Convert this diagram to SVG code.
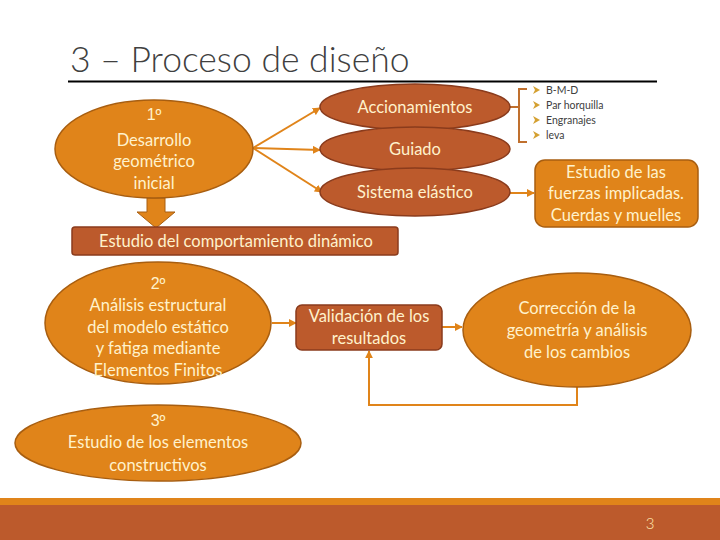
<svg xmlns="http://www.w3.org/2000/svg" width="720" height="540" viewBox="0 0 720 540">
<defs>
<style>
.t{font-family:Lato,"Open Sans","Liberation Sans",sans-serif;fill:#FFF2CC;font-size:16.5px;text-anchor:middle}
.n{font-family:"Liberation Sans","Open Sans",sans-serif;font-size:16px}
.o{fill:#E0841A;stroke:#A85E10;stroke-width:1.5}
.r{fill:#BC5A2C;stroke:#8A3B1C;stroke-width:1.5}
.c{fill:none;stroke:#E0841A;stroke-width:2}
.b{font-family:Lato,"Open Sans","Liberation Sans",sans-serif;fill:#404040;font-size:10.5px}
</style>
<marker id="ah" viewBox="0 0 10 10" refX="9" refY="5" markerWidth="4" markerHeight="4" orient="auto-start-reverse">
<path d="M0,0 L10,5 L0,10 z" fill="#E0841A"/>
</marker>
</defs>
<rect width="720" height="540" fill="#fff"/>
<text x="70" y="72" font-family="Lato,'Open Sans','Liberation Sans',sans-serif" font-weight="300" font-size="35.5" fill="#404040">3 – Proceso de diseño</text>
<line x1="68" y1="81.5" x2="657" y2="81.5" stroke="#000" stroke-width="2"/>
<rect x="0" y="498" width="720" height="7" fill="#E0841A"/>
<rect x="0" y="505" width="720" height="35" fill="#BC5A2C"/>
<text x="650" y="529" font-family="Lato,'Open Sans','Liberation Sans',sans-serif" font-weight="300" font-size="15" fill="#FFE9B0" text-anchor="middle">3</text>

<g id="connectors">
<path class="c" d="M253,148 L320,108" marker-end="url(#ah)"/>
<path class="c" d="M253,148 L320,150" marker-end="url(#ah)"/>
<path class="c" d="M253,148 L322,192" marker-end="url(#ah)"/>
<path d="M510,107 H519 M527,89 H519 V142 H527" fill="none" stroke="#C0702E" stroke-width="2"/>
<path class="c" d="M510,193 L534,193" marker-end="url(#ah)"/>
<path class="c" d="M272,323 L296,323" marker-end="url(#ah)"/>
<path class="c" d="M442,327 L462,327" marker-end="url(#ah)"/>
<path class="c" d="M577,387 V405 H369 V351" marker-end="url(#ah)"/>
<polygon points="147,198 165,198 165,212 175,212 156,228 137,212 147,212" fill="#E0841A" stroke="#A85E10" stroke-width="1"/>
</g>

<g id="n-desarrollo">
<ellipse class="o" cx="154" cy="149" rx="99" ry="49"/>
<text class="t n" x="154" y="120">1º</text>
<text class="t" x="154" y="146">Desarrollo</text>
<text class="t" x="154" y="167">geométrico</text>
<text class="t" x="154" y="189">inicial</text>
</g>

<g id="n-accionamientos">
<ellipse class="r" cx="415" cy="107" rx="95" ry="23"/>
<text class="t" x="415" y="113">Accionamientos</text>
</g>
<g id="n-guiado">
<ellipse class="r" cx="415" cy="149" rx="95" ry="22"/>
<text class="t" x="415" y="155">Guiado</text>
</g>
<g id="n-sistema">
<ellipse class="r" cx="415" cy="192" rx="95" ry="24"/>
<text class="t" x="415" y="198">Sistema elástico</text>
</g>

<g id="n-bullets">
<polygon points="533,86 540,90 533,94 535,90" fill="#D4A030"/>
<polygon points="533,101 540,105 533,109 535,105" fill="#D4A030"/>
<polygon points="533,116 540,120 533,124 535,120" fill="#D4A030"/>
<polygon points="533,131 540,135 533,139 535,135" fill="#D4A030"/>
<text class="b" x="546" y="94">B-M-D</text>
<text class="b" x="546" y="109">Par horquilla</text>
<text class="b" x="546" y="124">Engranajes</text>
<text class="b" x="546" y="139">leva</text>
</g>

<g id="n-fuerzas">
<rect class="o" x="535" y="160" width="163" height="67" rx="10"/>
<text class="t" x="616" y="178">Estudio de las</text>
<text class="t" x="616" y="199">fuerzas implicadas.</text>
<text class="t" x="616" y="221">Cuerdas y muelles</text>
</g>

<g id="n-dinamico">
<rect class="r" x="72" y="227" width="326" height="28" rx="3"/>
<text class="t" x="236" y="247">Estudio del comportamiento dinámico</text>
</g>

<g id="n-analisis">
<ellipse class="o" cx="158" cy="323" rx="113" ry="61"/>
<text class="t n" x="158" y="289">2º</text>
<text class="t" x="158" y="311">Análisis estructural</text>
<text class="t" x="158" y="333">del modelo estático</text>
<text class="t" x="158" y="354">y fatiga mediante</text>
<text class="t" x="158" y="376">Elementos Finitos</text>
</g>

<g id="n-validacion">
<rect class="r" x="296" y="305" width="146" height="45" rx="6"/>
<text class="t" x="369" y="322">Validación de los</text>
<text class="t" x="369" y="344">resultados</text>
</g>

<g id="n-correccion">
<ellipse class="o" cx="577" cy="330" rx="114" ry="57"/>
<text class="t" x="577" y="314">Corrección de la</text>
<text class="t" x="577" y="336">geometría y análisis</text>
<text class="t" x="577" y="358">de los cambios</text>
</g>

<g id="n-elementos">
<ellipse class="o" cx="158" cy="443" rx="143" ry="38"/>
<text class="t n" x="158" y="426">3º</text>
<text class="t" x="158" y="448">Estudio de los elementos</text>
<text class="t" x="158" y="471">constructivos</text>
</g>
</svg>
